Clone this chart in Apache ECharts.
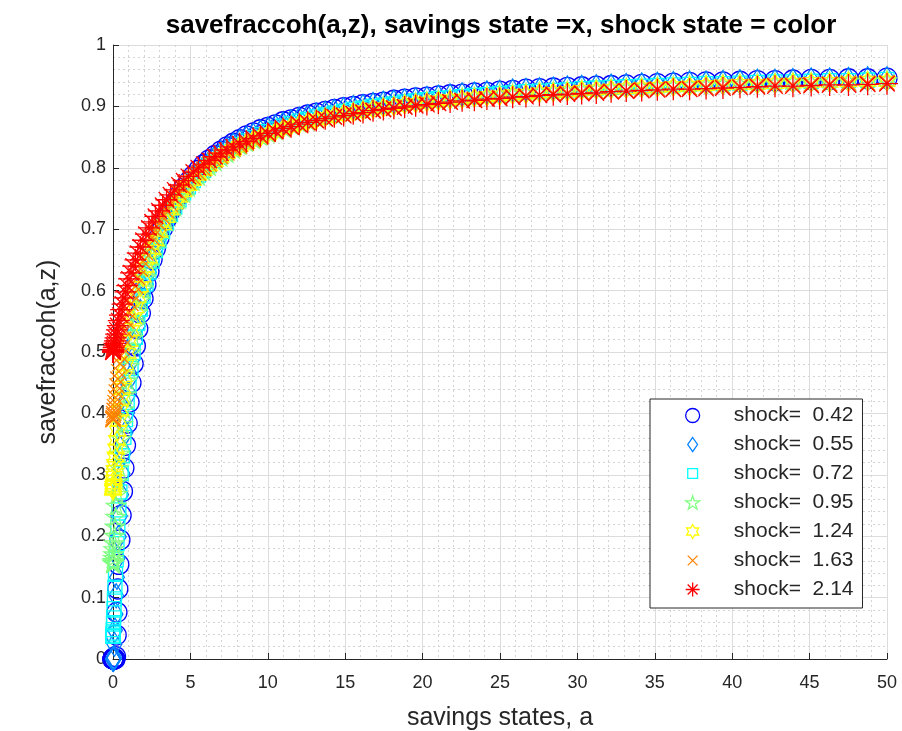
<!DOCTYPE html>
<html>
<head>
<meta charset="utf-8">
<script src="https://cdn.jsdelivr.net/npm/echarts@6/dist/echarts.min.js"></script>
<style>
html,body{margin:0;padding:0;background:#fff;}
#chart{width:902px;height:731px;}
</style>
</head>
<body>
<div id="chart"></div>
<script>
// savings grid (x values)
const aGrid = [0,0.001,0.003,0.008,0.016,0.029,0.045,0.067,0.093,0.125,0.162,0.206,0.256,0.312,0.376,0.447,0.525,0.611,0.705,0.807,0.917,1.036,1.164,1.301,1.447,1.602,1.767,1.942,2.127,2.322,2.528,2.743,2.970,3.208,3.456,3.716,3.987,4.269,4.564,4.870,5.188,5.518,5.861,6.216,6.584,6.965,7.359,7.765,8.184,8.617,9.064,9.523,9.998,10.485,10.986,11.503,12.032,12.577,13.135,13.710,14.298,14.901,15.520,16.152,16.800,17.465,18.144,18.840,19.551,20.276,21.020,21.777,22.553,23.345,24.153,24.977,25.818,26.675,27.549,28.441,29.349,30.275,31.219,32.178,33.156,34.153,35.165,36.196,37.246,38.312,39.401,40.501,41.625,42.764,43.923,45.102,46.296,47.511,48.750,50];

const shockLabels = ['shock=  0.42','shock=  0.55','shock=  0.72','shock=  0.95','shock=  1.24','shock=  1.63','shock=  2.14'];

const s042 = [0,0,0,0,0,0,0,0,0,0,
0.004,0.039,0.076,0.114,0.154,0.194,0.234,0.273,0.311,0.348,
0.384,0.418,0.450,0.481,0.510,0.538,0.563,0.587,0.610,0.631,
0.651,0.669,0.686,0.702,0.717,0.731,0.743,0.755,0.767,0.777,
0.787,0.796,0.805,0.813,0.820,0.827,0.834,0.840,0.846,0.852,
0.857,0.862,0.866,0.870,0.875,0.878,0.882,0.886,0.889,0.892,
0.895,0.898,0.900,0.903,0.905,0.907,0.910,0.912,0.914,0.915,
0.917,0.919,0.920,0.922,0.923,0.925,0.926,0.928,0.929,0.930,
0.931,0.932,0.933,0.934,0.935,0.936,0.937,0.938,0.939,0.940,
0.940,0.941,0.942,0.942,0.943,0.944,0.944,0.945,0.945,0.946];

const s055 = [0,0,0,0,0,0,0,0.003,0.024,0.047,
0.073,0.103,0.133,0.165,0.199,0.233,0.268,0.302,0.336,0.369,
0.401,0.432,0.461,0.490,0.517,0.542,0.566,0.589,0.610,0.630,
0.649,0.667,0.684,0.699,0.714,0.727,0.740,0.752,0.763,0.773,
0.783,0.792,0.801,0.809,0.817,0.824,0.830,0.837,0.843,0.848,
0.853,0.858,0.863,0.867,0.871,0.875,0.879,0.883,0.886,0.889,
0.892,0.895,0.898,0.900,0.903,0.905,0.907,0.909,0.911,0.913,
0.915,0.917,0.919,0.920,0.922,0.923,0.925,0.926,0.927,0.928,
0.930,0.931,0.932,0.933,0.934,0.935,0.936,0.937,0.938,0.938,
0.939,0.940,0.941,0.941,0.942,0.943,0.943,0.944,0.945,0.945];

const s072 = [0.037,0.037,0.039,0.042,0.048,0.057,0.067,0.082,0.098,0.117,
0.138,0.162,0.188,0.215,0.243,0.272,0.302,0.331,0.361,0.390,
0.418,0.446,0.473,0.499,0.524,0.547,0.570,0.591,0.611,0.630,
0.648,0.665,0.681,0.696,0.710,0.724,0.736,0.748,0.759,0.769,
0.779,0.788,0.796,0.805,0.812,0.819,0.826,0.832,0.838,0.844,
0.849,0.854,0.859,0.863,0.868,0.872,0.876,0.879,0.883,0.886,
0.889,0.892,0.895,0.897,0.900,0.902,0.904,0.907,0.909,0.911,
0.913,0.914,0.916,0.918,0.919,0.921,0.922,0.924,0.925,0.926,
0.927,0.929,0.930,0.931,0.932,0.933,0.934,0.935,0.936,0.937,
0.937,0.938,0.939,0.940,0.940,0.941,0.942,0.942,0.943,0.944];

const s095 = [0.156,0.157,0.158,0.160,0.165,0.171,0.179,0.189,0.201,0.216,
0.232,0.250,0.269,0.290,0.312,0.335,0.359,0.383,0.407,0.431,
0.454,0.478,0.500,0.523,0.544,0.565,0.585,0.604,0.622,0.639,
0.656,0.671,0.686,0.700,0.713,0.726,0.737,0.749,0.759,0.769,
0.778,0.787,0.795,0.803,0.811,0.818,0.824,0.831,0.837,0.842,
0.847,0.852,0.857,0.862,0.866,0.870,0.874,0.877,0.881,0.884,
0.887,0.890,0.893,0.896,0.898,0.901,0.903,0.905,0.907,0.909,
0.911,0.913,0.915,0.916,0.918,0.920,0.921,0.923,0.924,0.925,
0.926,0.928,0.929,0.930,0.931,0.932,0.933,0.934,0.935,0.936,
0.937,0.937,0.938,0.939,0.940,0.940,0.941,0.942,0.942,0.943];

const s124 = [0.275,0.275,0.276,0.278,0.281,0.285,0.291,0.298,0.307,0.317,
0.329,0.342,0.356,0.371,0.388,0.405,0.423,0.441,0.460,0.479,
0.498,0.517,0.535,0.554,0.572,0.589,0.606,0.622,0.638,0.653,
0.667,0.681,0.695,0.707,0.719,0.731,0.741,0.752,0.761,0.771,
0.779,0.788,0.796,0.803,0.810,0.817,0.823,0.829,0.835,0.840,
0.846,0.850,0.855,0.859,0.864,0.868,0.871,0.875,0.878,0.882,
0.885,0.888,0.890,0.893,0.896,0.898,0.900,0.903,0.905,0.907,
0.909,0.911,0.912,0.914,0.916,0.917,0.919,0.920,0.922,0.923,
0.924,0.926,0.927,0.928,0.929,0.930,0.931,0.932,0.933,0.934,
0.935,0.936,0.936,0.937,0.938,0.939,0.939,0.940,0.941,0.941];

const s163 = [0.390,0.390,0.390,0.392,0.393,0.397,0.400,0.405,0.411,0.418,
0.426,0.435,0.445,0.456,0.468,0.481,0.494,0.507,0.521,0.535,
0.550,0.564,0.579,0.593,0.607,0.621,0.635,0.648,0.661,0.674,
0.686,0.698,0.709,0.720,0.730,0.740,0.750,0.759,0.768,0.776,
0.784,0.791,0.798,0.806,0.812,0.818,0.824,0.830,0.835,0.840,
0.845,0.850,0.854,0.859,0.863,0.866,0.870,0.873,0.877,0.880,
0.883,0.886,0.888,0.891,0.894,0.896,0.898,0.900,0.903,0.905,
0.906,0.908,0.910,0.912,0.913,0.915,0.916,0.918,0.919,0.921,
0.922,0.923,0.924,0.925,0.926,0.928,0.929,0.929,0.930,0.931,
0.932,0.933,0.934,0.935,0.935,0.936,0.937,0.938,0.938,0.939];

const s214 = [0.500,0.500,0.500,0.501,0.502,0.504,0.507,0.510,0.514,0.518,
0.523,0.529,0.536,0.543,0.551,0.560,0.569,0.578,0.588,0.598,
0.608,0.619,0.629,0.640,0.650,0.661,0.671,0.682,0.692,0.702,
0.712,0.721,0.730,0.739,0.748,0.756,0.764,0.772,0.779,0.786,
0.793,0.800,0.806,0.812,0.818,0.824,0.829,0.834,0.839,0.843,
0.848,0.852,0.856,0.860,0.864,0.867,0.871,0.874,0.877,0.880,
0.883,0.885,0.888,0.890,0.893,0.895,0.897,0.899,0.901,0.903,
0.905,0.907,0.909,0.910,0.912,0.913,0.915,0.916,0.918,0.919,
0.920,0.921,0.922,0.924,0.925,0.926,0.927,0.928,0.928,0.929,
0.930,0.931,0.932,0.933,0.933,0.934,0.935,0.935,0.936,0.937];

const xTicks = [0,5,10,15,20,25,30,35,40,45,50];
const yTicks = [0,0.1,0.2,0.3,0.4,0.5,0.6,0.7,0.8,0.9,1];

const seriesValues = [s042, s055, s072, s095, s124, s163, s214];
const colors = ['#0000ff','#0080ff','#00ffff','#80ff80','#ffff00','#ff8000','#ff0000'];

const P_DIAM = 'path://M10,0 L18,13 L10,26 L2,13 Z';
const P_STAR = 'path://M10,0 L12.245,6.91 L19.51,6.91 L13.633,11.18 L15.88,18.09 L10,13.82 L4.12,18.09 L6.367,11.18 L0.49,6.91 L7.755,6.91 Z';
const P_HEX = 'path://M10,0 L12.887,5 L18.66,5 L15.77,10 L18.66,15 L12.887,15 L10,20 L7.113,15 L1.34,15 L4.23,10 L1.34,5 L7.113,5 Z';
const P_X = 'path://M0,0 L20,20 M20,0 L0,20';
const P_AST = 'path://M10,0 L10,20 M0,10 L20,10 M2.93,2.93 L17.07,17.07 M17.07,2.93 L2.93,17.07';
const P_SQ_SMALL = 'path://M0,0 M20,20 M3,3 L17,3 L17,17 L3,17 Z';
const P_X_SMALL = 'path://M0,0 M20,20 M3,3 L17,17 M17,3 L3,17';
const P_DIAM_L = 'path://M10,0 L17,10 L10,20 L3,10 Z';

const symbols = ['circle',P_DIAM,'rect',P_STAR,P_HEX,P_X,P_AST];
const sizes = [20,24,14,19,19,15,22];
const legendIcons = ['circle',P_DIAM_L,P_SQ_SMALL,P_STAR,P_HEX,P_X_SMALL,P_AST];

const FONT = 'Liberation Sans, Arial, Helvetica, sans-serif';
const INK = '#262626';

const series = seriesValues.map((vals, k) => ({
  type: 'scatter',
  name: shockLabels[k],
  data: aGrid.map((a, i) => [a, vals[i]]),
  symbol: symbols[k],
  symbolSize: sizes[k],
  symbolKeepAspect: true,
  silent: true,
  itemStyle: { color: 'rgba(0,0,0,0)', borderColor: colors[k], borderWidth: 1.3, opacity: 1 },
  emphasis: { disabled: true },
  z: 3 + k
}));

const chart = echarts.init(document.getElementById('chart'), null, { renderer: 'canvas' });
chart.setOption({
  animation: false,
  backgroundColor: '#ffffff',
  title: {
    text: 'savefraccoh(a,z), savings state =x, shock state = color',
    left: 496, top: 8, textAlign: 'center',
    textStyle: { fontFamily: FONT, fontWeight: 'bold', fontSize: 26, color: '#000' }
  },
  grid: { left: 113, right: 15, top: 45, bottom: 72, containLabel: false, outerBoundsMode: 'none' },
  legend: {
    orient: 'vertical',
    left: 650, top: 399,
    padding: [6, 9, 8, 35],
    backgroundColor: '#ffffff',
    borderColor: INK, borderWidth: 1,
    itemWidth: 14, itemHeight: 14, itemGap: 8,
    selectedMode: false,
    formatter: name => '     ' + name,
    textStyle: { fontFamily: FONT, fontSize: 21, color: INK, lineHeight: 21 },
    data: shockLabels.map((n, k) => ({
      name: n, icon: legendIcons[k],
      itemStyle: { color: 'rgba(0,0,0,0)', borderColor: colors[k], borderWidth: 1.3 }
    }))
  },
  xAxis: {
    type: 'value', min: 0, max: 50, interval: 5,
    name: 'savings states, a', nameLocation: 'middle', nameGap: 47,
    nameTextStyle: { fontFamily: FONT, fontSize: 25, color: INK },
    axisLine: { show: true, onZero: false, lineStyle: { color: INK, width: 1 } },
    axisTick: { show: true, inside: true, length: 6, lineStyle: { color: INK } },
    axisLabel: { fontFamily: FONT, fontSize: 18, color: INK, margin: 15,
      formatter: v => xTicks.includes(v) ? String(v) : '' },
    splitLine: { show: true, lineStyle: { color: '#dcdcdc', width: 1 } },
    minorTick: { show: false, splitNumber: 5 },
    minorSplitLine: { show: true, lineStyle: { color: '#d4d4d4', width: 1, type: [2, 3] } }
  },
  yAxis: {
    type: 'value', min: 0, max: 1, interval: 0.1,
    name: 'savefraccoh(a,z)', nameLocation: 'middle', nameGap: 52,
    nameTextStyle: { fontFamily: FONT, fontSize: 25, color: INK },
    axisLine: { show: true, onZero: false, lineStyle: { color: INK, width: 1 } },
    axisTick: { show: true, inside: true, length: 6, lineStyle: { color: INK } },
    axisLabel: { fontFamily: FONT, fontSize: 18, color: INK, margin: 7,
      formatter: v => { const t = yTicks.find(y => Math.abs(y - v) < 1e-9); return t === undefined ? '' : String(t); } },
    splitLine: { show: true, lineStyle: { color: '#dcdcdc', width: 1 } },
    minorTick: { show: false, splitNumber: 5 },
    minorSplitLine: { show: true, lineStyle: { color: '#d4d4d4', width: 1, type: [2, 3] } }
  },
  series: series
});
</script>
</body>
</html>
